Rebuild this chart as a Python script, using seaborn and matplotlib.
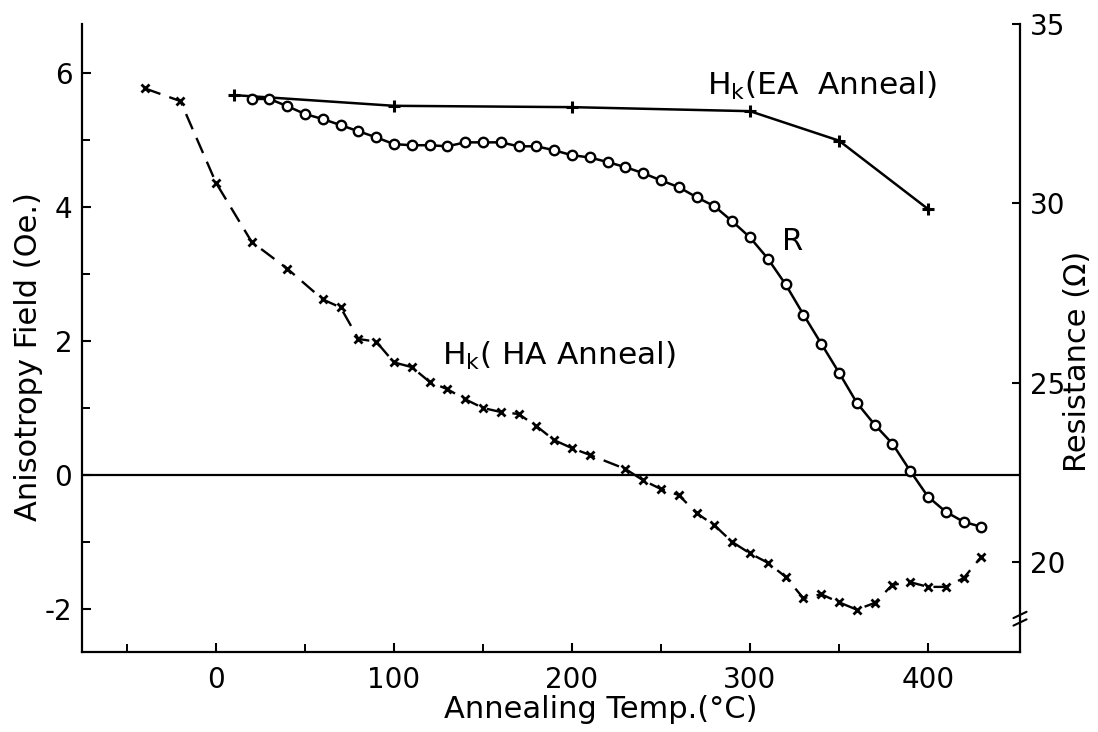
import matplotlib
matplotlib.use("Agg")
import matplotlib.pyplot as plt
from matplotlib.ticker import MultipleLocator, FixedLocator
import seaborn as sns

# Anisotropy field after hard-axis anneal (Oe)
temp_ha = [-40, -20, 0, 20, 40, 60, 70, 80, 90, 100, 110, 120, 130, 140, 150,
           160, 170, 180, 190, 200, 210, 230, 240, 250, 260, 270, 280, 290,
           300, 310, 320, 330, 340, 350, 360, 370, 380, 390, 400, 410, 420, 430]
hk_ha = [5.77, 5.58, 4.36, 3.48, 3.08, 2.62, 2.50, 2.03, 1.99, 1.68, 1.61, 1.39,
         1.28, 1.13, 1.00, 0.94, 0.91, 0.73, 0.52, 0.40, 0.30, 0.09, -0.08,
         -0.21, -0.30, -0.57, -0.75, -1.00, -1.17, -1.31, -1.52, -1.84, -1.78,
         -1.90, -2.01, -1.91, -1.64, -1.60, -1.67, -1.67, -1.54, -1.22]

# Anisotropy field after easy-axis anneal (Oe)
temp_ea = [10, 100, 200, 300, 350, 400]
hk_ea = [5.67, 5.51, 5.49, 5.43, 4.99, 3.97]

# Film resistance (ohm)
temp_r = [20, 30, 40, 50, 60, 70, 80, 90, 100, 110, 120, 130, 140, 150, 160,
          170, 180, 190, 200, 210, 220, 230, 240, 250, 260, 270, 280, 290, 300,
          310, 320, 330, 340, 350, 360, 370, 380, 390, 400, 410, 420, 430]
resistance = [32.91, 32.91, 32.71, 32.49, 32.35, 32.18, 32.01, 31.84, 31.65,
              31.62, 31.62, 31.59, 31.70, 31.70, 31.70, 31.59, 31.59, 31.48,
              31.34, 31.28, 31.15, 31.01, 30.84, 30.64, 30.45, 30.17, 29.92,
              29.50, 29.05, 28.46, 27.74, 26.90, 26.09, 25.28, 24.44, 23.83,
              23.30, 22.54, 21.82, 21.40, 21.12, 20.98]

x_ticks = [0, 100, 200, 300, 400]
x_minor = [-50, 50, 150, 250, 350]
hk_ticks = [-2, 0, 2, 4, 6]
r_ticks = [20, 25, 30, 35]

sns.set_style("ticks")
plt.rcParams["font.family"] = ["DejaVu Sans"]
plt.rcParams.update({
    "axes.unicode_minus": False,
    "axes.linewidth": 1.6,
    "text.color": "black",
    "axes.labelcolor": "black",
    "xtick.labelcolor": "black",
    "ytick.labelcolor": "black",
    "xtick.direction": "in",
    "ytick.direction": "in",
    "xtick.major.size": 6.5,
    "ytick.major.size": 6.5,
    "xtick.minor.size": 6.0,
    "ytick.minor.size": 6.0,
    "xtick.major.width": 1.5,
    "ytick.major.width": 1.5,
    "xtick.minor.width": 1.4,
    "ytick.minor.width": 1.4,
    "xtick.color": "black",
    "ytick.color": "black",
    "axes.edgecolor": "black",
})

fig = plt.figure(figsize=(10.98, 7.32), dpi=100)
ax = fig.add_axes([82 / 1098, 80 / 732, 938 / 1098, 628 / 732])
ax2 = ax.twinx()

ax.set_xlim(-75.3, 451.7)
ax.set_ylim(-2.642, 6.731)
ax2.set_ylim(17.49, 35.0)

ax.axhline(0, color="black", lw=1.6, zorder=1)

sns.lineplot(x=temp_ha, y=hk_ha, ax=ax, color="black", lw=1.7,
             linestyle=(0, (7, 4)), marker="x", markersize=5.5,
             markeredgewidth=2.0, markeredgecolor="black",
             sort=False, estimator=None, zorder=3)

sns.lineplot(x=temp_ea, y=hk_ea, ax=ax, color="black", lw=1.8,
             marker="+", markersize=9, markeredgewidth=2.2,
             markeredgecolor="black", sort=False, estimator=None, zorder=3)

sns.lineplot(x=temp_r, y=resistance, ax=ax2, color="black", lw=1.8,
             marker="o", markersize=6.8, markerfacecolor="white",
             markeredgecolor="black", markeredgewidth=1.7,
             sort=False, estimator=None, zorder=3)

# axes, ticks and spines
ax.set_xticks(x_ticks)
ax.xaxis.set_minor_locator(FixedLocator(x_minor))
ax.set_yticks(hk_ticks)
ax.yaxis.set_minor_locator(MultipleLocator(1))
ax2.set_yticks(r_ticks)

for a in (ax, ax2):
    a.spines["top"].set_visible(False)
ax.spines["right"].set_visible(False)
ax2.spines["left"].set_visible(False)
ax2.spines["bottom"].set_visible(False)

ax.tick_params(axis="x", which="both", labelsize=20, pad=10, top=False)
ax.tick_params(axis="y", which="both", labelsize=20, pad=7, right=False)
ax2.tick_params(axis="y", labelsize=20, pad=7, length=5.5)

ax.set_xlabel("Annealing Temp.(°C)", fontsize=22)
ax.xaxis.set_label_coords(0.553, -0.068)
ax.set_ylabel("Anisotropy Field (Oe.)", fontsize=22)
ax.yaxis.set_label_coords(-0.042, 0.47)
ax2.set_ylabel("Resistance (Ω)", fontsize=22)
ax2.yaxis.set_label_coords(1.046, 0.462)

# curve labels
ax.text(275.8, 5.67, r"H$_\mathregular{k}$(EA  Anneal)", fontsize=22.5,
        va="baseline", ha="left")
ax.text(127, 1.64, r"H$_\mathregular{k}$( HA Anneal)", fontsize=22.5,
        va="baseline", ha="left")
ax.text(318, 3.36, "R", fontsize=22, va="baseline", ha="left")

# axis break marks on the resistance scale
for dy in (0.0, 0.012):
    ax2.plot([0.993, 1.007], [0.042 + dy, 0.052 + dy], transform=ax2.transAxes,
             color="black", lw=1.5, clip_on=False, zorder=5)

fig.savefig("out.png", dpi=100, facecolor="white")
